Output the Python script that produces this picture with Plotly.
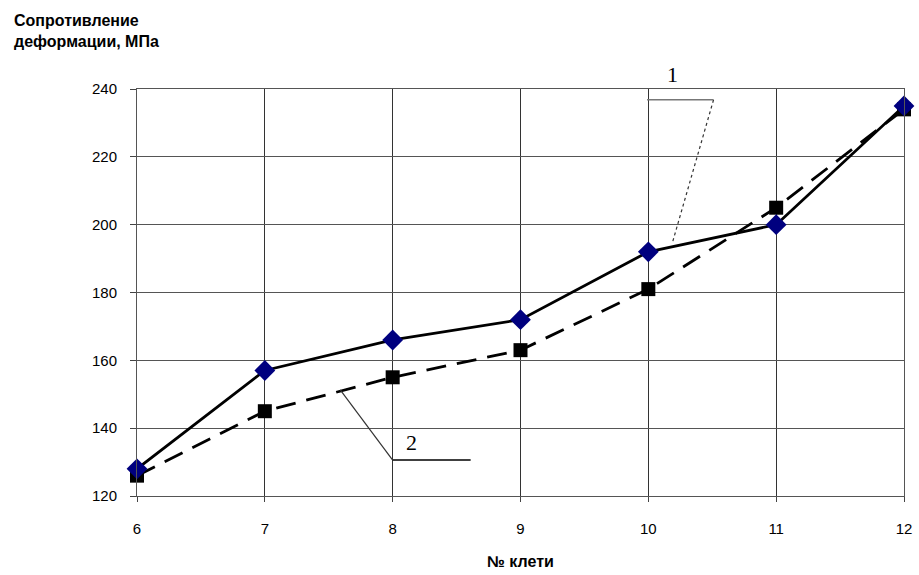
import plotly.graph_objects as go

stands = [6, 7, 8, 9, 10, 11, 12]
series1 = [128, 157, 166, 172, 192, 200, 235]
series2 = [126, 145, 155, 163, 181, 205, 234]
y_ticks = [120, 140, 160, 180, 200, 220, 240]

fig = go.Figure()
fig.add_trace(go.Scatter(
    x=stands, y=series2, mode="lines+markers", name="2",
    line=dict(color="black", width=2.8, dash="20px,11px"),
    marker=dict(symbol="square", size=14, color="black"),
    cliponaxis=False,
))
fig.add_trace(go.Scatter(
    x=stands, y=series1, mode="lines+markers", name="1",
    line=dict(color="black", width=2.8),
    marker=dict(symbol="diamond", size=16, color="#00007f"),
    cliponaxis=False,
))

# leader lines for labels
lead = dict(xref="x", yref="y", type="line")
fig.add_shape(**lead, x0=9.99, y0=236.8, x1=10.51, y1=236.8, line=dict(color="#777", width=1.5))
fig.add_shape(**lead, x0=10.51, y0=236.8, x1=10.19, y1=194.9, line=dict(color="#333", width=1.2, dash="dot"))
fig.add_shape(**lead, x0=8.0, y0=130.6, x1=8.61, y1=130.6, line=dict(color="black", width=1.5))
fig.add_shape(**lead, x0=8.0, y0=130.6, x1=7.59, y1=151.3, line=dict(color="#333", width=1.2))

fig.update_layout(
    width=919, height=575,
    margin=dict(l=137, r=15, t=89, b=79),
    paper_bgcolor="white", plot_bgcolor="white",
    showlegend=False,
    font=dict(family="Liberation Sans", size=14, color="black"),
    annotations=[
        dict(x=10.19, y=1.036, xref="x", yref="paper", text="1", showarrow=False,
             yanchor="middle", font=dict(family="Liberation Serif", size=22, color="black")),
        dict(x=8.15, y=131.5, xref="x", yref="y", text="2", showarrow=False,
             yanchor="bottom", font=dict(family="Liberation Serif", size=22, color="black")),
        dict(x=-0.163, y=1.195, xref="paper", yref="paper", xanchor="left", yanchor="top",
             text="<b>Сопротивление<br>деформации, МПа</b>", showarrow=False, align="left",
             font=dict(family="Liberation Sans", size=16, color="black")),
        dict(x=9.0, y=-0.162, xref="x", yref="paper", xanchor="center", yanchor="middle",
             text="<b>№ клети</b>", showarrow=False,
             font=dict(family="Liberation Sans", size=16, color="black")),
    ],
)
fig.update_xaxes(
    range=[6, 12], tickvals=stands, ticks="outside", ticklen=5, tickcolor="#444",
    showgrid=True, gridcolor="#333", gridwidth=1, automargin=False,
    showline=True, linecolor="#555", linewidth=1, mirror=True, zeroline=False,
    tickfont=dict(size=15), ticklabelstandoff=14,
)
fig.update_yaxes(
    range=[120, 240], tickvals=y_ticks, ticks="outside", ticklen=6, tickcolor="#444",
    showgrid=True, gridcolor="#555", gridwidth=1, automargin=False,
    showline=True, linecolor="#555", linewidth=1, mirror=True, zeroline=False,
    tickfont=dict(size=15), ticklabelstandoff=10,
)

fig.write_html(
    "out.html",
    config={"displayModeBar": False},
    post_script="document.body.style.margin='0';document.body.style.overflow='hidden';",
)
